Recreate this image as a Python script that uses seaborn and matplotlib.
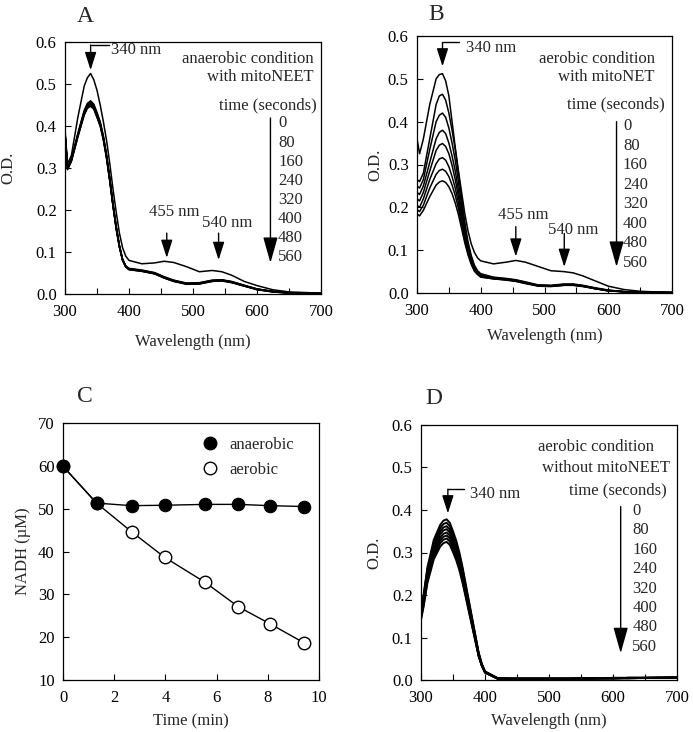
import matplotlib
matplotlib.use("Agg")
import matplotlib.pyplot as plt
from matplotlib.lines import Line2D
from matplotlib.ticker import MultipleLocator, FormatStrFormatter
import seaborn as sns
import pandas as pd

# ---------------- data ----------------
WL = [300, 304, 310, 320, 330, 335, 340, 345, 350, 355, 360, 365, 370, 375, 380,
      385, 390, 395, 400, 420, 440, 455, 470, 490, 510, 530, 545, 560, 580, 600,
      625, 650, 700]
TIMES = ["0", "80", "160", "240", "320", "400", "480", "560"]

# Panel A: anaerobic with mitoNEET
A_0 = [0.390, 0.310, 0.330, 0.420, 0.495, 0.515, 0.525, 0.510, 0.485, 0.450, 0.410, 0.365, 0.310, 0.250, 0.195, 0.145, 0.110, 0.090, 0.080,
       0.072, 0.074, 0.078, 0.075, 0.065, 0.053, 0.056, 0.053, 0.045, 0.030, 0.020, 0.010, 0.005, 0.002]
A_80 = [0.385, 0.302, 0.322, 0.382, 0.437, 0.454, 0.460, 0.452, 0.432, 0.410, 0.376, 0.331, 0.276, 0.216, 0.161, 0.116, 0.083, 0.067, 0.061,
        0.057, 0.051, 0.041, 0.033, 0.026, 0.027, 0.033, 0.034, 0.030, 0.021, 0.012, 0.006, 0.003, 0.001]
A_160 = [0.384, 0.301, 0.321, 0.380, 0.435, 0.452, 0.457, 0.450, 0.430, 0.408, 0.374, 0.329, 0.274, 0.214, 0.160, 0.115, 0.082, 0.066, 0.060,
         0.056, 0.050, 0.040, 0.032, 0.025, 0.026, 0.032, 0.033, 0.029, 0.020, 0.012, 0.006, 0.003, 0.001]
A_240 = [0.383, 0.300, 0.320, 0.378, 0.433, 0.450, 0.455, 0.448, 0.428, 0.406, 0.372, 0.327, 0.273, 0.213, 0.159, 0.114, 0.082, 0.066, 0.060,
         0.056, 0.050, 0.040, 0.032, 0.025, 0.026, 0.032, 0.033, 0.029, 0.020, 0.012, 0.006, 0.003, 0.001]
A_320 = [0.382, 0.299, 0.319, 0.377, 0.431, 0.448, 0.453, 0.446, 0.426, 0.405, 0.371, 0.326, 0.272, 0.212, 0.158, 0.114, 0.081, 0.065, 0.059,
         0.055, 0.049, 0.039, 0.031, 0.025, 0.025, 0.031, 0.033, 0.029, 0.020, 0.011, 0.006, 0.003, 0.001]
A_400 = [0.381, 0.298, 0.318, 0.376, 0.429, 0.446, 0.451, 0.444, 0.424, 0.403, 0.369, 0.325, 0.271, 0.211, 0.157, 0.113, 0.081, 0.065, 0.059,
         0.055, 0.049, 0.039, 0.031, 0.024, 0.025, 0.031, 0.032, 0.028, 0.019, 0.011, 0.005, 0.003, 0.001]
A_480 = [0.380, 0.297, 0.317, 0.375, 0.428, 0.444, 0.449, 0.442, 0.422, 0.401, 0.368, 0.324, 0.270, 0.210, 0.156, 0.112, 0.080, 0.064, 0.058,
         0.054, 0.048, 0.038, 0.030, 0.024, 0.024, 0.030, 0.032, 0.028, 0.019, 0.011, 0.005, 0.002, 0.001]
A_560 = [0.379, 0.296, 0.316, 0.373, 0.426, 0.442, 0.447, 0.440, 0.420, 0.400, 0.366, 0.322, 0.268, 0.209, 0.155, 0.111, 0.080, 0.064, 0.058,
         0.054, 0.048, 0.038, 0.030, 0.023, 0.024, 0.030, 0.031, 0.027, 0.019, 0.010, 0.005, 0.002, 0.001]

# Panel B: aerobic with mitoNEET
B_0 = [0.360, 0.325, 0.360, 0.440, 0.500, 0.510, 0.512, 0.495, 0.460, 0.400, 0.340, 0.285, 0.235, 0.185, 0.145, 0.115, 0.095, 0.082, 0.075,
       0.068, 0.072, 0.076, 0.072, 0.062, 0.052, 0.050, 0.047, 0.040, 0.028, 0.016, 0.008, 0.004, 0.001]
B_80 = [0.265, 0.260, 0.280, 0.360, 0.440, 0.460, 0.464, 0.450, 0.420, 0.380, 0.335, 0.280, 0.220, 0.165, 0.120, 0.088, 0.065, 0.052, 0.045,
        0.037, 0.034, 0.031, 0.026, 0.019, 0.018, 0.021, 0.021, 0.018, 0.012, 0.007, 0.003, 0.002, 0.001]
B_160 = [0.250, 0.245, 0.265, 0.335, 0.400, 0.415, 0.420, 0.410, 0.385, 0.350, 0.310, 0.260, 0.205, 0.155, 0.113, 0.083, 0.062, 0.050, 0.043,
         0.036, 0.033, 0.030, 0.025, 0.018, 0.017, 0.020, 0.020, 0.017, 0.011, 0.006, 0.003, 0.002, 0.001]
B_240 = [0.235, 0.230, 0.250, 0.305, 0.360, 0.375, 0.380, 0.372, 0.350, 0.320, 0.285, 0.240, 0.190, 0.145, 0.107, 0.079, 0.060, 0.048, 0.041,
         0.035, 0.032, 0.029, 0.024, 0.018, 0.017, 0.019, 0.020, 0.017, 0.011, 0.006, 0.003, 0.002, 0.001]
B_320 = [0.220, 0.215, 0.235, 0.285, 0.333, 0.345, 0.349, 0.342, 0.325, 0.298, 0.265, 0.225, 0.180, 0.138, 0.102, 0.076, 0.057, 0.046, 0.040,
         0.034, 0.032, 0.029, 0.024, 0.017, 0.016, 0.019, 0.019, 0.016, 0.010, 0.006, 0.003, 0.002, 0.001]
B_400 = [0.205, 0.200, 0.220, 0.265, 0.302, 0.313, 0.316, 0.310, 0.295, 0.272, 0.245, 0.210, 0.170, 0.130, 0.097, 0.073, 0.055, 0.045, 0.039,
         0.034, 0.031, 0.028, 0.023, 0.017, 0.016, 0.018, 0.019, 0.016, 0.010, 0.005, 0.003, 0.002, 0.001]
B_480 = [0.195, 0.190, 0.205, 0.245, 0.277, 0.286, 0.289, 0.284, 0.272, 0.252, 0.228, 0.197, 0.160, 0.124, 0.093, 0.070, 0.053, 0.044, 0.038,
         0.033, 0.031, 0.028, 0.023, 0.017, 0.016, 0.018, 0.018, 0.016, 0.010, 0.005, 0.003, 0.002, 0.001]
B_560 = [0.185, 0.180, 0.193, 0.225, 0.252, 0.259, 0.262, 0.258, 0.248, 0.232, 0.210, 0.183, 0.150, 0.117, 0.089, 0.067, 0.051, 0.043, 0.037,
         0.033, 0.030, 0.027, 0.022, 0.016, 0.015, 0.018, 0.018, 0.015, 0.010, 0.005, 0.003, 0.002, 0.001]

# Panel D: aerobic without mitoNEET
D_0 = [0.165, 0.200, 0.265, 0.330, 0.365, 0.375, 0.378, 0.370, 0.350, 0.328, 0.300, 0.265, 0.225, 0.185, 0.145, 0.105, 0.065, 0.038, 0.020,
       0.004, 0.003, 0.003, 0.003, 0.003, 0.003, 0.003, 0.004, 0.004, 0.004, 0.005, 0.005, 0.005, 0.006]
D_80 = [0.162, 0.196, 0.260, 0.323, 0.357, 0.367, 0.370, 0.362, 0.343, 0.321, 0.294, 0.260, 0.220, 0.181, 0.142, 0.103, 0.064, 0.037, 0.020,
        0.004, 0.003, 0.003, 0.003, 0.003, 0.003, 0.003, 0.004, 0.004, 0.004, 0.005, 0.005, 0.005, 0.006]
D_160 = [0.158, 0.192, 0.254, 0.316, 0.350, 0.359, 0.362, 0.354, 0.335, 0.314, 0.288, 0.254, 0.216, 0.177, 0.139, 0.101, 0.062, 0.036, 0.019,
         0.004, 0.003, 0.003, 0.003, 0.003, 0.003, 0.003, 0.003, 0.004, 0.004, 0.004, 0.005, 0.005, 0.006]
D_240 = [0.155, 0.188, 0.249, 0.310, 0.343, 0.352, 0.355, 0.347, 0.329, 0.308, 0.282, 0.249, 0.211, 0.174, 0.136, 0.099, 0.061, 0.036, 0.019,
         0.004, 0.003, 0.003, 0.003, 0.003, 0.003, 0.003, 0.003, 0.004, 0.004, 0.004, 0.005, 0.005, 0.006]
D_320 = [0.152, 0.184, 0.243, 0.303, 0.335, 0.344, 0.347, 0.340, 0.321, 0.301, 0.275, 0.243, 0.207, 0.170, 0.133, 0.096, 0.060, 0.035, 0.018,
         0.003, 0.003, 0.003, 0.003, 0.003, 0.003, 0.003, 0.003, 0.004, 0.004, 0.004, 0.005, 0.005, 0.005]
D_400 = [0.148, 0.180, 0.238, 0.297, 0.328, 0.337, 0.340, 0.333, 0.315, 0.295, 0.270, 0.238, 0.202, 0.166, 0.130, 0.094, 0.058, 0.034, 0.018,
         0.003, 0.003, 0.003, 0.003, 0.003, 0.003, 0.003, 0.003, 0.004, 0.004, 0.004, 0.005, 0.005, 0.005]
D_480 = [0.145, 0.176, 0.233, 0.291, 0.322, 0.330, 0.333, 0.326, 0.308, 0.289, 0.264, 0.233, 0.198, 0.163, 0.128, 0.093, 0.057, 0.034, 0.018,
         0.003, 0.003, 0.003, 0.003, 0.003, 0.003, 0.003, 0.003, 0.003, 0.004, 0.004, 0.004, 0.005, 0.005]
D_560 = [0.142, 0.172, 0.228, 0.284, 0.314, 0.322, 0.325, 0.318, 0.301, 0.282, 0.258, 0.228, 0.194, 0.159, 0.125, 0.091, 0.056, 0.033, 0.017,
         0.003, 0.003, 0.003, 0.003, 0.003, 0.003, 0.003, 0.003, 0.003, 0.004, 0.004, 0.004, 0.005, 0.005]

# Panel C: NADH vs time
TIME_MIN = [0, 1.31, 2.68, 3.98, 5.55, 6.85, 8.09, 9.41]
NADH_ANAEROBIC = [59.9, 51.3, 50.7, 50.8, 51.0, 51.0, 50.7, 50.5]
NADH_AEROBIC = [59.9, 51.3, 44.6, 38.6, 32.8, 27.1, 23.1, 18.7]


def spectra_frame(curves):
    rows = []
    for t, vals in zip(TIMES, curves):
        assert len(vals) == len(WL)
        for w, v in zip(WL, vals):
            rows.append({"wl": w, "od": v, "time": t})
    return pd.DataFrame(rows)


dfA = spectra_frame([A_0, A_80, A_160, A_240, A_320, A_400, A_480, A_560])
dfB = spectra_frame([B_0, B_80, B_160, B_240, B_320, B_400, B_480, B_560])
dfD = spectra_frame([D_0, D_80, D_160, D_240, D_320, D_400, D_480, D_560])
dfC = pd.DataFrame({
    "time": TIME_MIN * 2,
    "nadh": NADH_AEROBIC + NADH_ANAEROBIC,
    "cond": ["aerobic"] * len(TIME_MIN) + ["anaerobic"] * len(TIME_MIN),
})

# ---------------- style ----------------
sns.set_theme(style="ticks")
plt.rcParams["font.family"] = ["Liberation Serif", "DejaVu Serif"]
plt.rcParams["axes.linewidth"] = 0.9
plt.rcParams["axes.edgecolor"] = "black"
plt.rcParams["xtick.color"] = "black"
plt.rcParams["ytick.color"] = "black"

TICK_FS = 12
TXT_FS = 12
LBL_FS = 12

fig = plt.figure(figsize=(6.93, 7.32), dpi=100)
W, H = 693.0, 732.0


def add_ax(x0, y0, x1, y1):
    return fig.add_axes([x0 / W, 1 - y1 / H, (x1 - x0) / W, (y1 - y0) / H])


axA = add_ax(65, 42, 321, 294)
axB = add_ax(417, 36, 672, 293)
axC = add_ax(63, 423, 319, 680)
axD = add_ax(421, 425, 677, 680)


def style_spec(ax, ylab_x, xlab_y):
    ax.set_xlim(300, 700)
    ax.set_ylim(0, 0.6)
    ax.xaxis.set_major_locator(MultipleLocator(100))
    ax.xaxis.set_minor_locator(MultipleLocator(50))
    ax.yaxis.set_major_locator(MultipleLocator(0.1))
    ax.yaxis.set_major_formatter(FormatStrFormatter("%.1f"))
    ax.set_xlabel("Wavelength (nm)", fontsize=LBL_FS)
    ax.set_ylabel("O.D.", fontsize=LBL_FS)
    ax.yaxis.set_label_coords(ylab_x, 0.5)
    ax.xaxis.set_label_coords(0.5, xlab_y)


def common_ticks(ax):
    ax.tick_params(axis="both", which="both", direction="in", labelsize=TICK_FS,
                   top=False, right=False, width=0.8)
    ax.tick_params(axis="x", which="major", length=4, pad=7)
    ax.tick_params(axis="y", which="major", length=4, pad=6)
    ax.tick_params(axis="both", which="minor", length=4)
    for s in ax.spines.values():
        s.set_visible(True)
        s.set_color("black")
        s.set_linewidth(0.9)


def arrow(ax, x, y0, y1, hl=1.1, hw=0.35, lw=1.0):
    ax.annotate("", xy=(x, y1), xytext=(x, y0),
                arrowprops=dict(arrowstyle=f"-|>,head_length={hl},head_width={hw}",
                                color="black", lw=lw, shrinkA=0, shrinkB=0,
                                mutation_scale=10))


def bent_340(ax, x, ytop, ytip, xend, tx, ty):
    ax.plot([x, xend], [ytop, ytop], color="black", lw=1.0)
    arrow(ax, x, ytop, ytip)
    ax.text(tx, ty, "340 nm", fontsize=TXT_FS, ha="left", va="center")


def time_list(ax, x, ytop, step):
    for i, t in enumerate(TIMES):
        ax.text(x, ytop - i * step, t, fontsize=TXT_FS, ha="left", va="center")


# ---------------- Panel A ----------------
sns.lineplot(data=dfA, x="wl", y="od", units="time", estimator=None,
             color="black", lw=1.1, ax=axA, sort=False)
style_spec(axA, -0.19, -0.16)
common_ticks(axA)
bent_340(axA, 340, 0.593, 0.533, 368, 372, 0.58)
axA.text(470, 0.195, "455 nm", fontsize=TXT_FS, ha="center", va="center")
arrow(axA, 459, 0.145, 0.086)
axA.text(553, 0.17, "540 nm", fontsize=TXT_FS, ha="center", va="center")
arrow(axA, 540, 0.145, 0.081)
axA.text(688, 0.559, "anaerobic condition", fontsize=TXT_FS, ha="right", va="center")
axA.text(688, 0.516, "with mitoNEET", fontsize=TXT_FS, ha="right", va="center")
axA.text(694, 0.450, "time (seconds)", fontsize=TXT_FS, ha="right", va="center")
time_list(axA, 633, 0.406, 0.0453)
arrow(axA, 621, 0.419, 0.074, hl=1.6, hw=0.45)

# ---------------- Panel B ----------------
sns.lineplot(data=dfB, x="wl", y="od", units="time", estimator=None,
             color="black", lw=1.1, ax=axB, sort=False)
style_spec(axB, -0.13, -0.135)
common_ticks(axB)
bent_340(axB, 340, 0.585, 0.529, 366, 377, 0.573)
axB.text(467, 0.182, "455 nm", fontsize=TXT_FS, ha="center", va="center")
arrow(axB, 455, 0.155, 0.085)
axB.text(545, 0.147, "540 nm", fontsize=TXT_FS, ha="center", va="center")
arrow(axB, 531, 0.139, 0.061)
axB.text(673, 0.547, "aerobic condition", fontsize=TXT_FS, ha="right", va="center")
axB.text(673, 0.505, "with mitoNET", fontsize=TXT_FS, ha="right", va="center")
axB.text(689, 0.441, "time (seconds)", fontsize=TXT_FS, ha="right", va="center")
time_list(axB, 623, 0.390, 0.0457)
arrow(axB, 613, 0.400, 0.061, hl=1.6, hw=0.45)

# ---------------- Panel C ----------------
sns.lineplot(data=dfC[dfC.cond == "aerobic"], x="time", y="nadh", color="black",
             lw=1.0, marker="o", markersize=9, markerfacecolor="white",
             markeredgecolor="black", markeredgewidth=1.0, ax=axC, legend=False)
sns.lineplot(data=dfC[dfC.cond == "anaerobic"], x="time", y="nadh", color="black",
             lw=1.0, marker="o", markersize=9, markerfacecolor="black",
             markeredgecolor="black", ax=axC, legend=False)
axC.set_xlim(0, 10)
axC.set_ylim(10, 70)
axC.xaxis.set_major_locator(MultipleLocator(2))
axC.yaxis.set_major_locator(MultipleLocator(10))
axC.set_xlabel("Time (min)", fontsize=LBL_FS)
axC.set_ylabel("NADH (µM)", fontsize=LBL_FS)
axC.yaxis.set_label_coords(-0.125, 0.5)
axC.xaxis.set_label_coords(0.5, -0.13)
common_ticks(axC)
for c in axC.get_lines():
    c.set_clip_on(False)
handles = [
    Line2D([], [], ls="none", marker="o", markersize=9, markerfacecolor="black",
           markeredgecolor="black"),
    Line2D([], [], ls="none", marker="o", markersize=9, markerfacecolor="white",
           markeredgecolor="black"),
]
axC.legend(handles, ["anaerobic", "aerobic"], loc="upper left",
           bbox_to_anchor=(0.475, 1.005), frameon=False, fontsize=TXT_FS,
           handlelength=1.2, handletextpad=0.6, labelspacing=0.55)

# ---------------- Panel D ----------------
sns.lineplot(data=dfD, x="wl", y="od", units="time", estimator=None,
             color="black", lw=1.4, ax=axD, sort=False)
style_spec(axD, -0.15, -0.13)
common_ticks(axD)
bent_340(axD, 342, 0.449, 0.392, 367, 377, 0.438)
axD.text(664, 0.548, "aerobic condition", fontsize=TXT_FS, ha="right", va="center")
axD.text(689, 0.500, "without mitoNEET", fontsize=TXT_FS, ha="right", va="center")
axD.text(684, 0.445, "time (seconds)", fontsize=TXT_FS, ha="right", va="center")
time_list(axD, 630, 0.398, 0.0457)
arrow(axD, 612, 0.408, 0.063, hl=1.6, hw=0.45)

# panel letters
for letter, (x, y) in {"A": (85, 16), "B": (436, 15), "C": (85, 396), "D": (434, 398)}.items():
    fig.text(x / W, 1 - y / H, letter, fontsize=17, ha="center", va="center")

fig.savefig("out.png", dpi=100)
